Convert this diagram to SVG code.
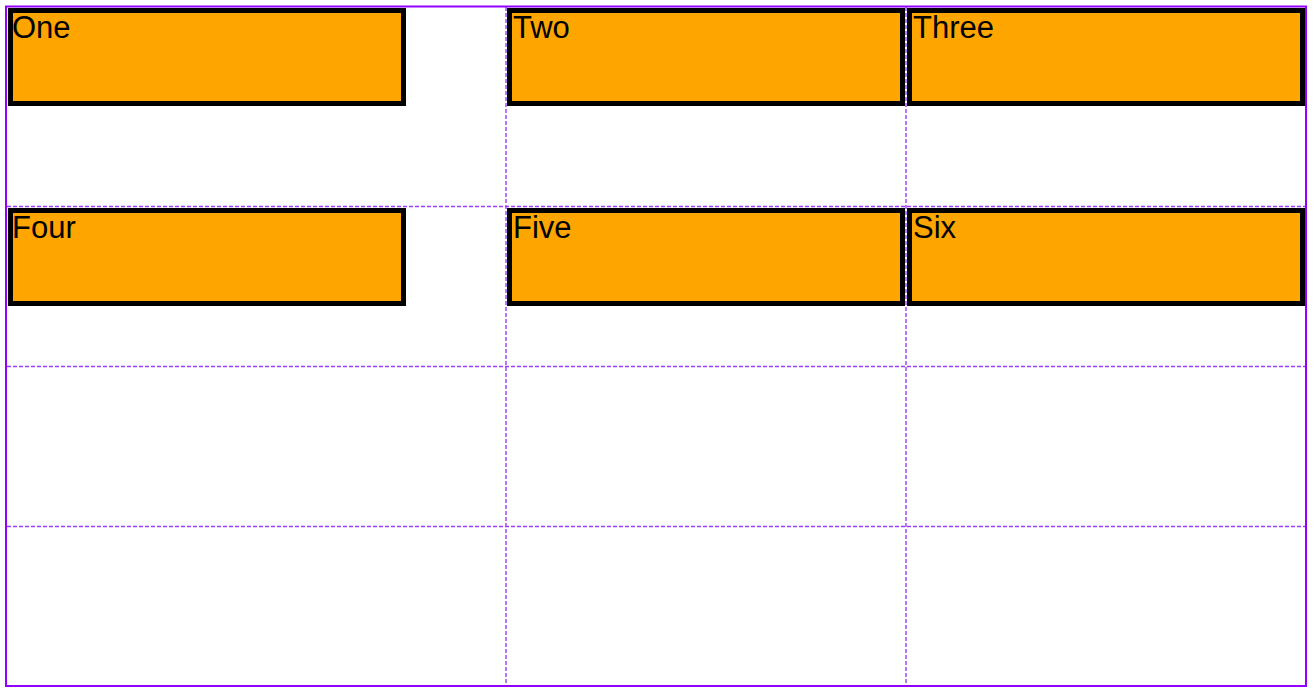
<svg xmlns="http://www.w3.org/2000/svg" width="1314" height="692" viewBox="0 0 1314 692">
  <style>
    .box { fill: #ffa500; stroke: #000; stroke-width: 5; }
    .lbl { font-family: "Liberation Sans", Arial, sans-serif; font-size: 31px; fill: #000; }
    .grid { stroke: #9d3cff; stroke-width: 1.4; stroke-dasharray: 4 2; fill: none; }
    .frame { fill: none; stroke: #9400ff; stroke-width: 2; }
  </style>
  <rect width="1314" height="692" fill="#fff"/>
  <g id="one"><rect class="box" x="10.5" y="10.5" width="393" height="93"/><text class="lbl" x="12" y="38">One</text></g>
  <g id="two"><rect class="box" x="509.5" y="10.5" width="393" height="93"/><text class="lbl" x="513" y="38">Two</text></g>
  <g id="three"><rect class="box" x="909.5" y="10.5" width="393" height="93"/><text class="lbl" x="913" y="38">Three</text></g>
  <g id="four"><rect class="box" x="10.5" y="210.5" width="393" height="93"/><text class="lbl" x="12" y="238">Four</text></g>
  <g id="five"><rect class="box" x="509.5" y="210.5" width="393" height="93"/><text class="lbl" x="513" y="238">Five</text></g>
  <g id="six"><rect class="box" x="909.5" y="210.5" width="393" height="93"/><text class="lbl" x="913" y="238">Six</text></g>
  <g id="connectors">
    <line class="grid" x1="506" y1="7" x2="506" y2="686"/>
    <line class="grid" x1="906" y1="7" x2="906" y2="686"/>
    <line class="grid" x1="7" y1="206.5" x2="1305" y2="206.5"/>
    <line class="grid" x1="7" y1="366.5" x2="1305" y2="366.5"/>
    <line class="grid" x1="7" y1="526.5" x2="1305" y2="526.5"/>
    <rect class="frame" x="6" y="6.5" width="1300" height="679.5"/>
  </g>
</svg>
